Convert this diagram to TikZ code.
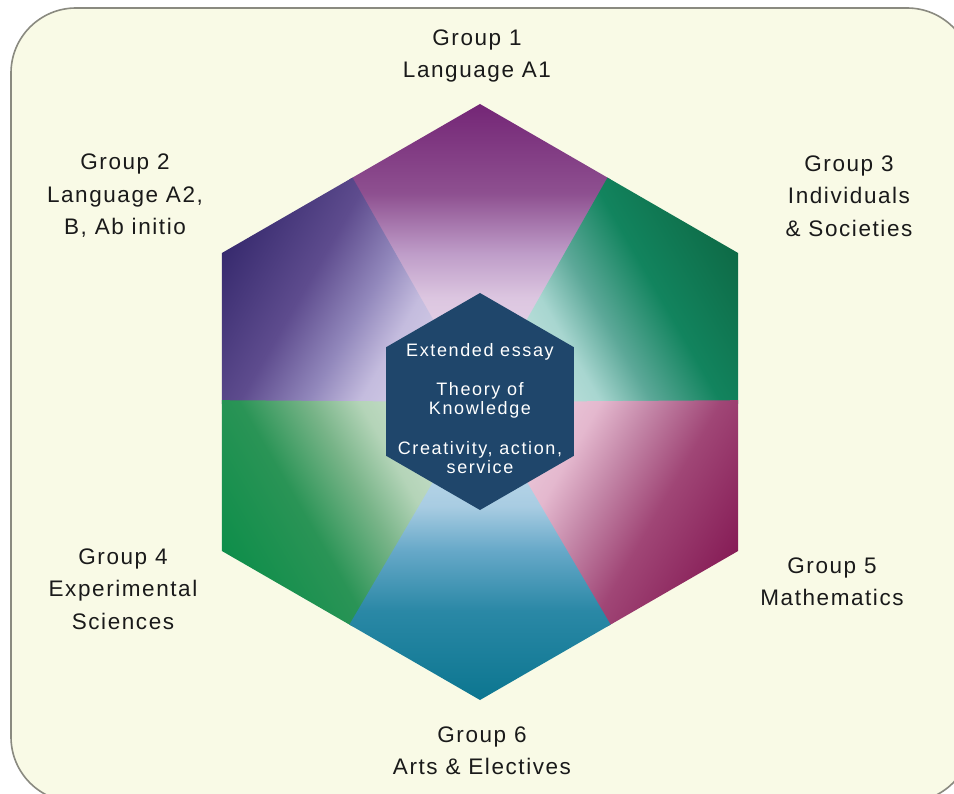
\documentclass[tikz,border=0pt]{standalone}
\usepackage{fontspec}
\setmainfont{Liberation Sans}
\newfontfamily\outerf[LetterSpace=7]{Liberation Sans}
\newfontfamily\innerf[LetterSpace=9]{Liberation Sans}
\usetikzlibrary{shapes.geometric}

% sector colours: L (centre), A (0.35), B (0.5), C (0.7), V (vertex)
\definecolor{aL}{HTML}{F0E6F2}\definecolor{aA}{HTML}{DCC6E0}\definecolor{aB}{HTML}{BE9CC8}\definecolor{aC}{HTML}{8E5090}\definecolor{aV}{HTML}{742676}
\definecolor{bL}{HTML}{E6E2F2}\definecolor{bA}{HTML}{C4BCDE}\definecolor{bB}{HTML}{9288BC}\definecolor{bC}{HTML}{5E4C8E}\definecolor{bV}{HTML}{372A6E}
\definecolor{cL}{HTML}{DDF0EE}\definecolor{cA}{HTML}{A8D6D0}\definecolor{cB}{HTML}{5CA898}\definecolor{cC}{HTML}{12845E}\definecolor{cV}{HTML}{0E6A46}
\definecolor{dL}{HTML}{E0ECE0}\definecolor{dA}{HTML}{B4D4B8}\definecolor{dB}{HTML}{78B488}\definecolor{dC}{HTML}{2A9456}\definecolor{dV}{HTML}{0E8E4A}
\definecolor{eL}{HTML}{F4E0EA}\definecolor{eA}{HTML}{E4B8CE}\definecolor{eB}{HTML}{C487A8}\definecolor{eC}{HTML}{A04676}\definecolor{eV}{HTML}{861C56}
\definecolor{fL}{HTML}{D8E8F4}\definecolor{fA}{HTML}{A8CCE2}\definecolor{fB}{HTML}{66A8C8}\definecolor{fC}{HTML}{2A88A6}\definecolor{fV}{HTML}{0C7690}
\definecolor{bgcream}{HTML}{F9FAE6}
\definecolor{bgframe}{HTML}{8A8A80}
\definecolor{corecol}{HTML}{1F466B}
\definecolor{labeltext}{HTML}{1A1A1A}

\pgfdeclareverticalshading{shadeA}{100bp}{color(0bp)=(aL); color(25bp)=(aL); color(42.5bp)=(aA); color(50bp)=(aB); color(60bp)=(aC); color(75bp)=(aV); color(100bp)=(aV)}
\pgfdeclareverticalshading{shadeB}{100bp}{color(0bp)=(bL); color(25bp)=(bL); color(42.5bp)=(bA); color(50bp)=(bB); color(60bp)=(bC); color(75bp)=(bV); color(100bp)=(bV)}
\pgfdeclareverticalshading{shadeC}{100bp}{color(0bp)=(cL); color(25bp)=(cL); color(42.5bp)=(cA); color(50bp)=(cB); color(60bp)=(cC); color(75bp)=(cV); color(100bp)=(cV)}
\pgfdeclareverticalshading{shadeD}{100bp}{color(0bp)=(dL); color(25bp)=(dL); color(42.5bp)=(dA); color(50bp)=(dB); color(60bp)=(dC); color(75bp)=(dV); color(100bp)=(dV)}
\pgfdeclareverticalshading{shadeE}{100bp}{color(0bp)=(eL); color(25bp)=(eL); color(42.5bp)=(eA); color(50bp)=(eB); color(60bp)=(eC); color(75bp)=(eV); color(100bp)=(eV)}
\pgfdeclareverticalshading{shadeF}{100bp}{color(0bp)=(fL); color(25bp)=(fL); color(42.5bp)=(fA); color(50bp)=(fB); color(60bp)=(fC); color(75bp)=(fV); color(100bp)=(fV)}

\newcommand\hexsector[2]{%
  \begin{scope}[transform canvas={shift={(480,402)},rotate=#1}]
    \shade[shading=#2] (0pt,0pt) -- (120.4:258.1pt) -- (90:298pt) -- (59.6:258.1pt) -- cycle;
  \end{scope}}

\begin{document}
\begin{tikzpicture}[x=1pt,y=-1pt,
  grouplabel/.style={align=center,text=labeltext,inner sep=0pt,
    font=\outerf\fontsize{22.5}{32.5}\selectfont},
  corelabel/.style={align=center,text=white,inner sep=0pt,
    font=\innerf\fontsize{18}{19}\selectfont},
  corehex/.style={regular polygon,regular polygon sides=6,regular polygon rotate=30,
    minimum size=217pt,inner sep=0pt,fill=corecol,draw=none}]
\useasboundingbox (0,0) rectangle (954,794);
\fill[white] (0,0) rectangle (954,794);
\begin{scope}
  \clip (0,0) rectangle (954,794);
  \filldraw[fill=bgcream,draw=bgframe,line width=1.6pt,rounded corners=65pt] (11,8) rectangle (972,802);
\end{scope}

% sectors
\hexsector{0}{shadeA}
\hexsector{60}{shadeB}
\hexsector{-60}{shadeC}
\hexsector{120}{shadeD}
\hexsector{-120}{shadeE}
\hexsector{180}{shadeF}

% core hexagon
\node[corehex] (core) at (480,401.5) {};
\node[corelabel] (ee) at (480,352) {Extended essay};
\node[corelabel] (tok) at (480,400) {Theory of\\Knowledge};
\node[corelabel] (cas) at (480,458) {Creativity, action,\\service};

% group labels
\node[grouplabel] (g1) at (477,56) {Group 1\\Language A1};
\node[grouplabel] (g2) at (125,196) {Group 2\\Language A2,\\B, Ab initio};
\node[grouplabel] (g3) at (849,196) {Group 3\\Individuals\\\& Societies};
\node[grouplabel] (g4) at (123,589) {Group 4\\Experimental\\Sciences};
\node[grouplabel] (g5) at (832,582) {Group 5\\Mathematics};
\node[grouplabel] (g6) at (482,751) {Group 6\\Arts \& Electives};
\end{tikzpicture}
\end{document}
